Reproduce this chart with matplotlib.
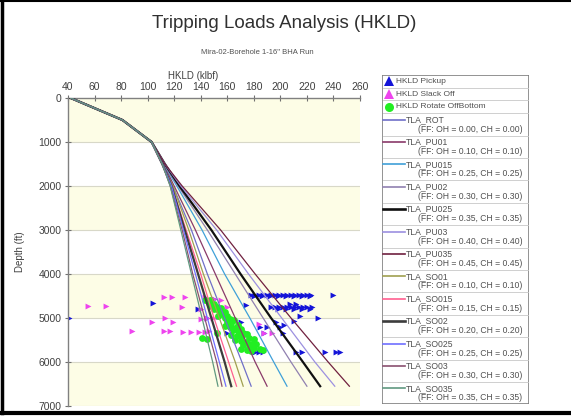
import matplotlib
matplotlib.use("Agg")
import matplotlib.pyplot as plt
from matplotlib.patches import Rectangle
from matplotlib.lines import Line2D

plt.rcParams['font.family'] = ['Liberation Sans', 'DejaVu Sans']

W, H = 571, 417

# ---- model curves (hookload in klbf at each depth in ft) ----
depths = [0, 500, 1000, 1500, 2000, 3000, 4000, 5000, 6000, 6550]

tla_rot = [42, 81, 103, 112, 119, 133, 145, 158, 171, 178]
tla_pu01 = [42, 81, 103, 112, 120, 136, 151, 166, 181, 190]
tla_pu015 = [42, 81, 103, 112, 122, 141, 158, 177, 195, 205]
tla_pu02 = [42, 81, 103, 112, 123, 145, 166, 187, 208, 220]
tla_pu025 = [42, 81, 103, 113, 124, 148, 170, 193, 217, 230]
tla_pu03 = [42, 81, 103, 113, 125, 152, 176, 201, 226, 241]
tla_pu035 = [42, 81, 103, 113, 126, 155, 181, 208, 236, 252]
tla_so01 = [42, 81, 103, 111, 119, 131, 142, 154, 166, 172]
tla_so015 = [42, 81, 103, 111, 118, 129, 140, 150, 161, 167]
tla_so02 = [42, 81, 103, 111, 118, 128, 138, 148, 158, 163]
tla_so025 = [42, 81, 103, 111, 118, 127, 136, 145, 154, 159]
tla_so03 = [42, 81, 103, 111, 117, 126, 134, 143, 152, 156]
tla_so035 = [42, 81, 103, 111, 117, 125, 133, 141, 149, 153]

curve_names = ['TLA_ROT', 'TLA_PU01', 'TLA_PU015', 'TLA_PU02', 'TLA_PU025',
               'TLA_PU03', 'TLA_PU035', 'TLA_SO01', 'TLA_SO015', 'TLA_SO02',
               'TLA_SO025', 'TLA_SO03', 'TLA_SO035']
friction = [0.00, 0.10, 0.25, 0.30, 0.35, 0.40, 0.45,
            0.10, 0.15, 0.20, 0.25, 0.30, 0.35]
curve_values = [tla_rot, tla_pu01, tla_pu015, tla_pu02, tla_pu025, tla_pu03,
                tla_pu035, tla_so01, tla_so015, tla_so02, tla_so025, tla_so03,
                tla_so035]
curve_colors = ['#7070c8', '#8a3a6a', '#3fa0d8', '#9080b0', '#101010',
                '#9c90e0', '#70203f', '#a0a050', '#ff6090', '#3c3c3c',
                '#6f6fff', '#8a5070', '#609880']
curve_widths = [0.9, 0.9, 0.9, 0.9, 1.6, 0.9, 0.9, 0.9, 0.9, 1.6, 0.9, 0.9, 0.9]

# ---- measured hookloads ----
pickup_hkld = [178, 181, 184, 187, 190, 193, 196, 199, 202, 205, 208, 211, 214, 217, 220, 223,
               180, 186, 192, 198, 204, 210, 216, 222, 240,
               193, 196, 199, 202, 205, 208, 211, 214, 217, 220, 224,
               198, 204, 210, 216, 222, 207, 212,
               41, 104, 138, 150, 174, 145, 160, 175, 188, 202, 185, 190, 200, 203,
               215, 228, 210, 197, 181, 184, 187, 212, 216, 234, 242, 245, 170, 160]
pickup_depth = [4480] * 16 + [4510] * 8 + [4480] + [4750] * 11 + [4790] * 5 + [4680, 4680] + \
               [5000, 4660, 4790, 4560, 4700, 5000, 5340, 5350, 5350, 5350, 5200, 5200, 5210, 5150,
                4960, 5000, 5060, 5100, 5770, 5770, 5770, 5770, 5770, 5770, 5770, 5770, 5100, 5000]

slack_hkld = [55, 69, 112, 118, 128, 143, 126, 150, 155, 154, 103, 113, 119, 140, 145, 149, 153,
              88, 112, 117, 127, 133, 139, 143, 146, 163, 184, 188, 194, 160, 140]
slack_depth = [4730, 4730, 4530, 4530, 4520, 4530, 4740, 4560, 4600, 4740, 5090, 5010, 5100, 5020,
               5000, 5000, 4980, 5300, 5290, 5290, 5310, 5310, 5310, 5310, 5300, 5000, 5130, 5330,
               5340, 4760, 4800]

rotate_hkld = [143, 147, 146, 150, 148, 152, 155, 150, 154, 158, 156, 160, 153, 158, 162, 165,
               160, 163, 168, 158, 162, 166, 170, 164, 168, 172, 175, 163, 167, 171, 176, 180,
               166, 170, 174, 178, 182, 172, 176, 180, 185, 187, 141, 145, 152, 178, 170, 175]
rotate_depth = [4580, 4600, 4650, 4680, 4720, 4750, 4780, 4800, 4850, 4870, 4900, 4950, 4950,
                5000, 5020, 5050, 5080, 5120, 5150, 5180, 5200, 5220, 5250, 5280, 5300, 5330,
                5360, 5380, 5400, 5420, 5450, 5480, 5500, 5520, 5550, 5580, 5600, 5620, 5650,
                5680, 5700, 5730, 5450, 5480, 5350, 5750, 5700, 5720]

band_starts = [0, 2000, 4000, 6000]
x_ticks = list(range(40, 261, 20))
y_ticks = list(range(0, 7001, 1000))

fig = plt.figure(figsize=(W / 100, H / 100), dpi=100)
fig.patch.set_facecolor('white')


def fx(px):
    return px / W


def fy(py):
    return 1 - py / H


ax = fig.add_axes([fx(68), fy(406), (360 - 68) / W, (406 - 98) / H])
ax.set_xlim(40, 260)
ax.set_ylim(7000, 0)
for start in band_starts:
    ax.axhspan(start, start + 1000, color='#fdfde6', lw=0, zorder=0)
for t in y_ticks[1:]:
    ax.axhline(t, color='#d8d8c8', lw=0.8, zorder=0.5)

ax.scatter(pickup_hkld, pickup_depth, marker='>', s=18, color='#1414d8', lw=0, zorder=2)
ax.scatter(slack_hkld, slack_depth, marker='>', s=18, color='#ee44ee', lw=0, zorder=2)
ax.scatter(rotate_hkld, rotate_depth, marker='o', s=24, color='#22ee22', lw=0, zorder=2)

for vals, col, lw in zip(curve_values, curve_colors, curve_widths):
    ax.plot(vals, depths, color=col, lw=lw, zorder=3)

ax.xaxis.tick_top()
ax.set_xticks(x_ticks)
ax.set_yticks(y_ticks)
ax.tick_params(direction='inout', length=5, width=0.8, color='#707070',
               labelsize=7.5, labelcolor='#404040', pad=2)
for side in ['right', 'bottom']:
    ax.spines[side].set_visible(False)
for side in ['left', 'top']:
    ax.spines[side].set_color('#808080')
    ax.spines[side].set_linewidth(1.0)

fig.text(fx(193), fy(76), 'HKLD (klbf)', ha='center', va='center', fontsize=7, color='#404040')
fig.text(fx(20), fy(252), 'Depth (ft)', ha='center', va='center', rotation=90,
         fontsize=7, color='#404040')
fig.text(fx(284), fy(24), 'Tripping Loads Analysis (HKLD)', ha='center', va='center',
         fontsize=13.5, color='#303030')
fig.text(fx(257), fy(53), 'Mira-02-Borehole 1-16" BHA Run', ha='center', va='center',
         fontsize=5.5, color='#505050')

# ---- legend panel, drawn in pixel units ----
lx0, lx1, ly0, ly1 = 382, 529, 75, 404
lax = fig.add_axes([fx(lx0), fy(ly1), (lx1 - lx0) / W, (ly1 - ly0) / H])
lax.set_xlim(0, lx1 - lx0)
lax.set_ylim(ly1 - ly0, 0)
lax.axis('off')
lax.add_patch(Rectangle((0, 0), lx1 - lx0, ly1 - ly0, fill=False, ec='#808080', lw=1.2))

marker_rows = [('HKLD Pickup', '^', '#1414d8'),
               ('HKLD Slack Off', '^', '#ee44ee'),
               ('HKLD Rotate OffBottom', 'o', '#22ee22')]
row_top = 0.0
single_h = 12.7
double_h = 22.4
for label, mk, col in marker_rows:
    yc = row_top + single_h / 2
    lax.plot([7], [yc], marker=mk, color=col, ms=6.5, mew=0, ls='none')
    lax.text(14, yc, label, fontsize=6, color='#505050', va='center', ha='left')
    row_top += single_h
    lax.plot([1, lx1 - lx0 - 1], [row_top, row_top], color='#c8c8c8', lw=0.6)

for name, f, col, lw in zip(curve_names, friction, curve_colors, curve_widths):
    y1 = row_top + 6.5
    y2 = row_top + 16
    lax.plot([1, 23], [y1, y1], color=col, lw=lw + 0.3)
    lax.text(24, y1, name, fontsize=6.2, color='#505050', va='center', ha='left')
    lax.text(36, y2, f'(FF: OH = {f:.2f}, CH = {f:.2f})', fontsize=6.2, color='#505050',
             va='center', ha='left')
    row_top += double_h
    if row_top < ly1 - ly0 - 2:
        lax.plot([1, lx1 - lx0 - 1], [row_top, row_top], color='#c8c8c8', lw=0.6)

# outer frame
fig.add_artist(Line2D([fx(1.5), fx(1.5)], [fy(1), fy(413)], color='black', lw=2.5))
fig.add_artist(Line2D([fx(0), fx(571)], [fy(1), fy(1)], color='black', lw=1.5))
fig.add_artist(Line2D([fx(0), fx(571)], [fy(413), fy(413)], color='black', lw=3))

fig.savefig('out.png', dpi=100, facecolor='white')
